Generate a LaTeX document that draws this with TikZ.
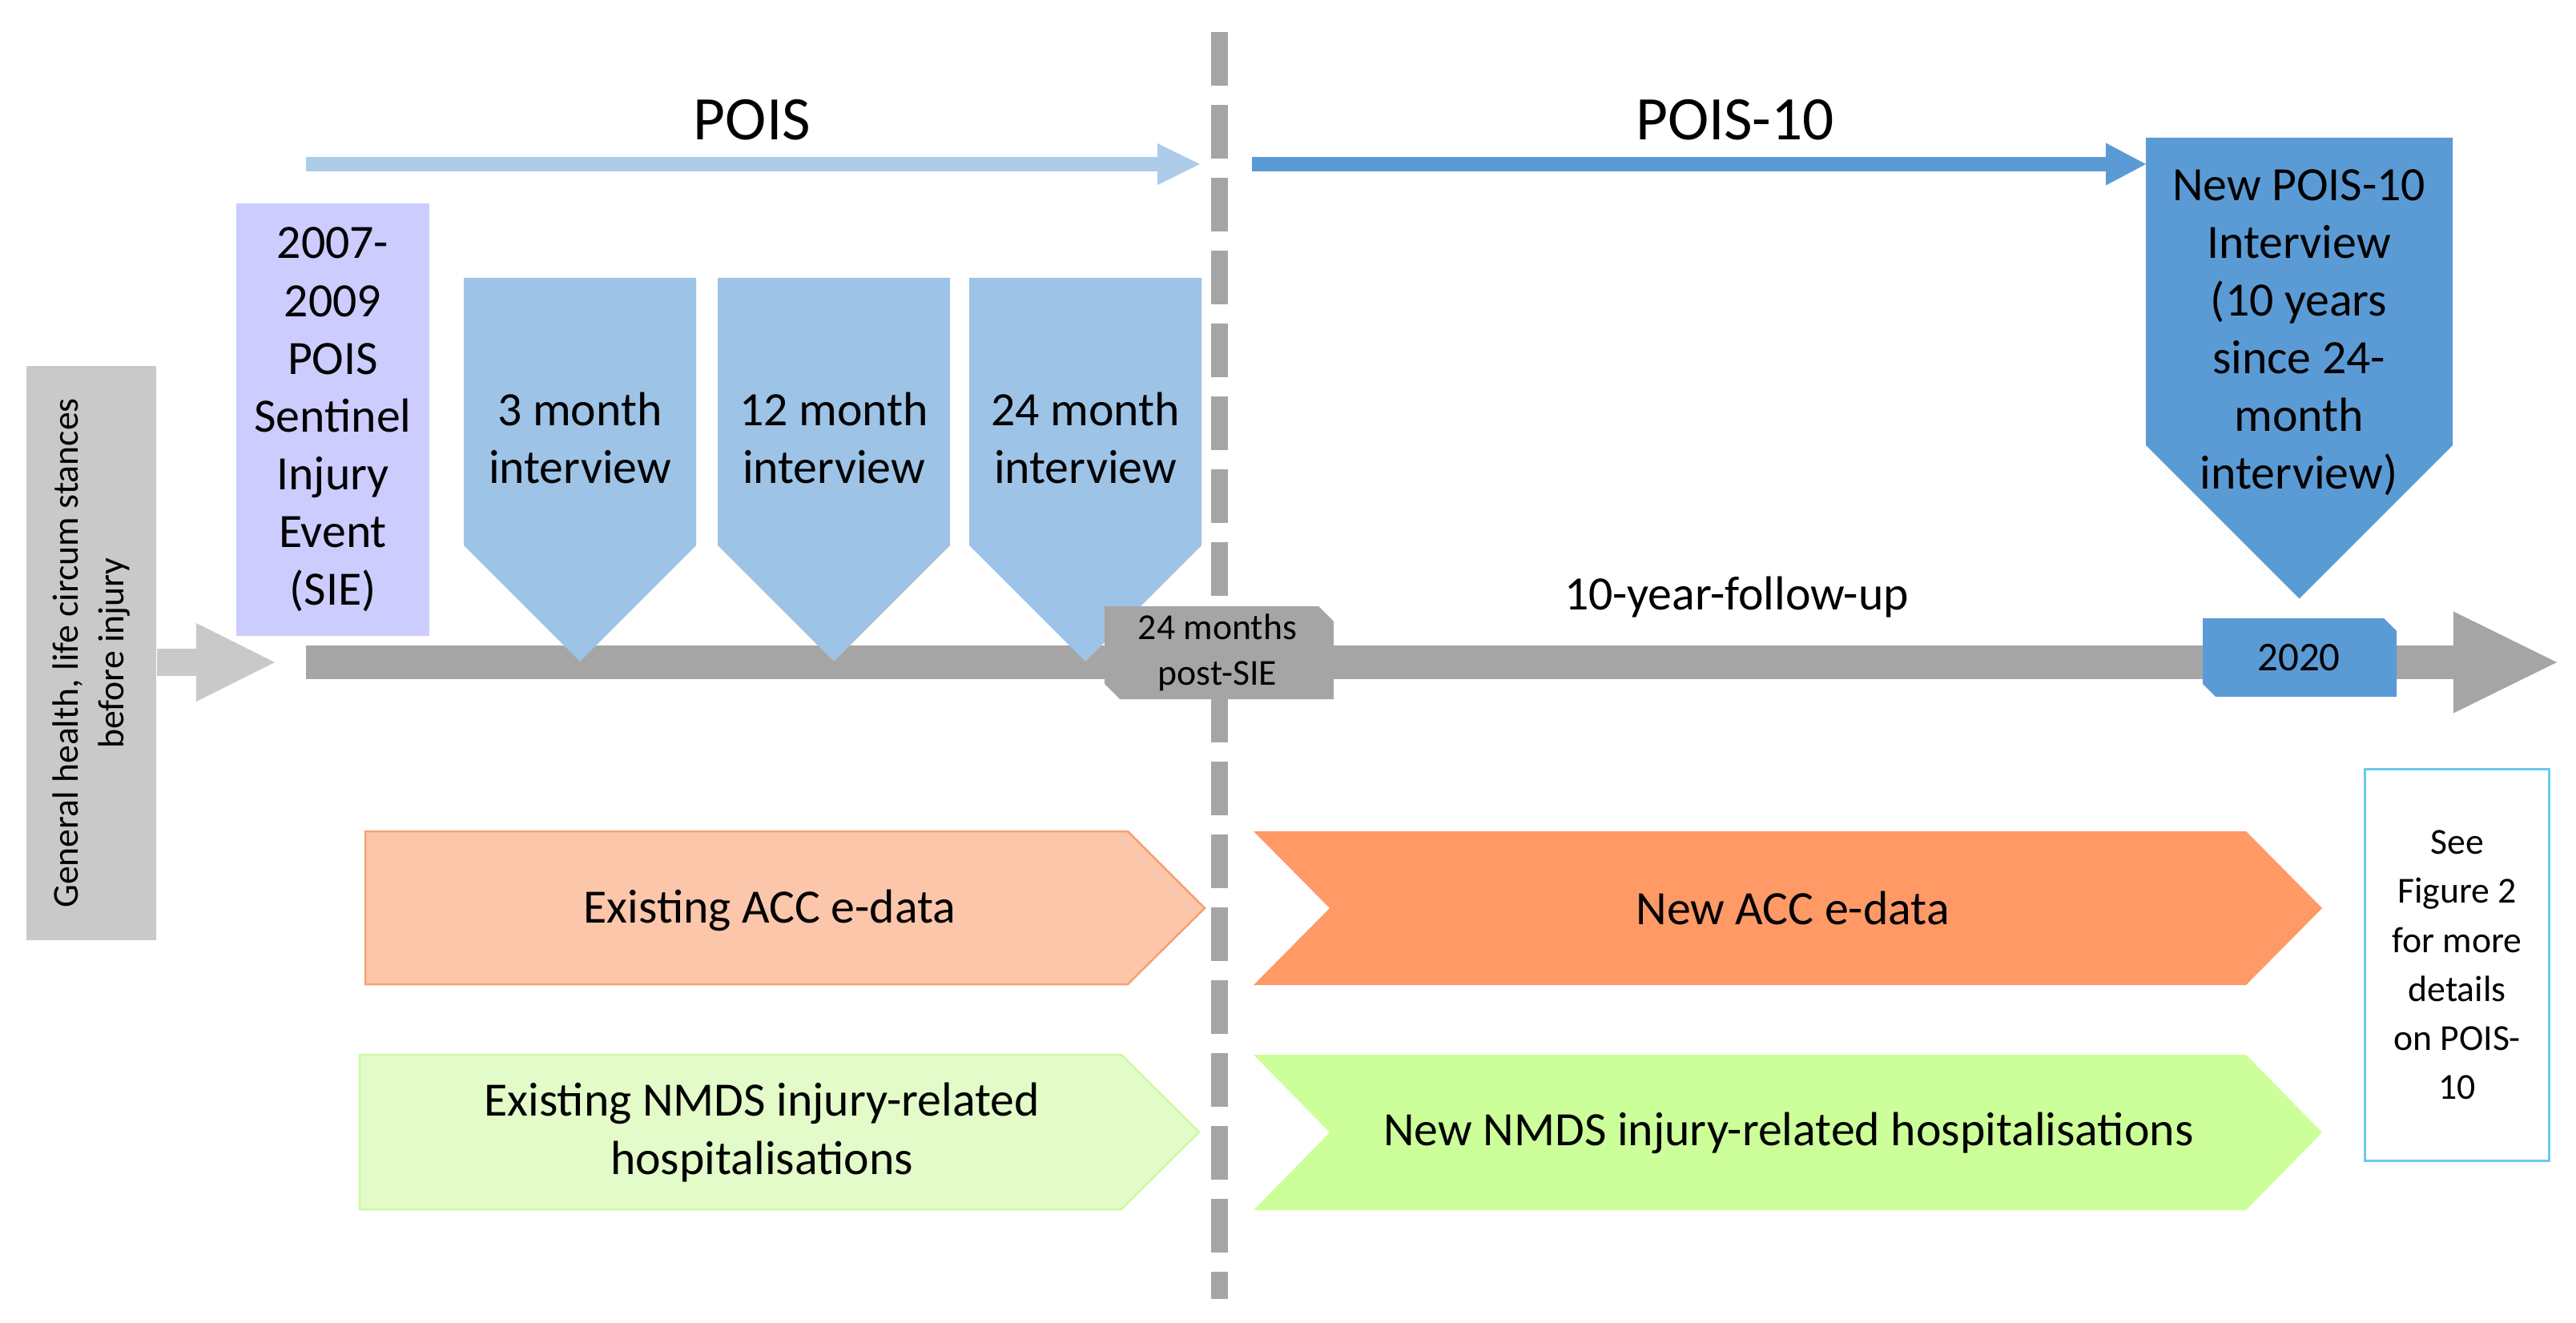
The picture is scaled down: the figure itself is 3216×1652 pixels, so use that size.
\documentclass[tikz,border=0pt]{standalone}
\usepackage{fontspec}
\setmainfont{Carlito}
\usetikzlibrary{arrows.meta}

\definecolor{lightgrey}{RGB}{201,201,201}
\definecolor{timegrey}{RGB}{165,165,165}
\definecolor{sieviolet}{RGB}{204,204,255}
\definecolor{poisblue}{RGB}{157,195,230}
\definecolor{poisarrow}{RGB}{172,204,234}
\definecolor{pois10blue}{RGB}{91,155,213}
\definecolor{accold}{RGB}{251,198,170}
\definecolor{accoldline}{RGB}{247,160,115}
\definecolor{accnew}{RGB}{255,153,102}
\definecolor{nmdsold}{RGB}{226,251,200}
\definecolor{nmdsoldline}{RGB}{204,250,160}
\definecolor{nmdsnew}{RGB}{204,255,153}
\definecolor{seeline}{RGB}{110,200,240}

\tikzset{
  bodytext/.style={font=\fontsize{17}{20.5}\selectfont, align=center, inner sep=0pt},
  smalltext/.style={font=\fontsize{13}{16.2}\selectfont, align=center, inner sep=0pt},
  titletext/.style={font=\fontsize{22}{26}\selectfont, inner sep=0pt},
}

\begin{document}
\begin{tikzpicture}[x=0.01cm, y=-0.01cm]
  \fill[white] (0,0) rectangle (3216,1652);
  \useasboundingbox (0,0) rectangle (3216,1652);

  % Divider between POIS and POIS-10
  \coordinate (divider-top) at (1522,40);
  \coordinate (divider-bottom) at (1522,1622);
  \draw[timegrey, line width=0.21cm, dash pattern=on 0.67cm off 0.24cm] (divider-top) -- (divider-bottom);

  % Nodes
  \node (pois) [titletext, anchor=base] at (939,175) {POIS};
  \node (pois10) [titletext, anchor=base] at (2166,175) {POIS-10};
  \node (general) [rectangle, fill=lightgrey, rotate=90, minimum width=7.16cm, minimum height=1.62cm, smalltext] at (114,815.5) {General health, life circum stances\\before injury};
  \node (sie) [rectangle, fill=sieviolet, minimum width=2.41cm, minimum height=5.40cm, bodytext] at (415.5,524) {2007-\\2009\\POIS\\Sentinel\\Injury\\Event\\(SIE)};

  % Timeline
  \coordinate (time-start) at (382,827);
  \coordinate (time-end) at (3192,827);
  \coordinate (lead-tip) at (343,827);
  \draw[timegrey, line width=0.42cm, -{Triangle[length=1.29cm, width=1.27cm, line width=0pt]}] (time-start) -- (time-end);
  \draw[lightgrey, line width=0.33cm, -{Triangle[length=0.98cm, width=0.98cm, line width=0pt]}] (general.south |- lead-tip) -- (lead-tip);

  % Study arrows
  \coordinate (pois-start) at (382,205);
  \coordinate (pois-end) at (1498,205);
  \coordinate (pois10-start) at (1563,205);
  \coordinate (pois10-end) at (2679,205);
  \draw[poisarrow, line width=0.17cm, -{Triangle[length=0.53cm, width=0.52cm, line width=0pt]}] (pois-start) -- (pois-end);
  \draw[pois10blue, line width=0.18cm, -{Triangle[length=0.50cm, width=0.53cm, line width=0pt]}] (pois10-start) -- (pois10-end);

  % Interviews
  \fill[poisblue] (579,347) -- (869,347) -- (869,681) -- (724,826) -- (579,681) -- cycle;
  \fill[poisblue] (896,347) -- (1186,347) -- (1186,681) -- (1041,826) -- (896,681) -- cycle;
  \fill[poisblue] (1210,347) -- (1500,347) -- (1500,681) -- (1355,826) -- (1210,681) -- cycle;
  \fill[pois10blue] (2679,172) -- (3062,172) -- (3062,556) -- (2870.5,747.5) -- (2679,556) -- cycle;
  \node (m3) [bodytext] at (724,547) {3 month\\interview};
  \node (m12) [bodytext] at (1041,547) {12 month\\interview};
  \node (m24) [bodytext] at (1355,547) {24 month\\interview};
  \node (new-interview) [bodytext] at (2870,415) {New POIS-10\\Interview\\(10 years\\since 24-\\month\\interview)};

  % Time labels
  \fill[timegrey] (1379,757) -- (1646,757) -- (1665,776) -- (1665,873) -- (1398,873) -- (1379,854) -- cycle;
  \node (post-sie) [smalltext] at (1520,815) {24 months\\post-SIE};
  \fill[pois10blue] (2750,772) -- (2976,772) -- (2992,788) -- (2992,870) -- (2766,870) -- (2750,854) -- cycle;
  \node (year2020) [font=\fontsize{14.5}{17}\selectfont, inner sep=0pt] at (2870,821) {2020};
  \node (followup) [bodytext, anchor=base] at (2168,761) {10-year-follow-up};

  % Linked data
  \filldraw[fill=accold, draw=accoldline, line width=0.025cm] (456,1038) -- (1408,1038) -- (1504,1134) -- (1408,1229) -- (456,1229) -- cycle;
  \fill[accnew] (1565,1038) -- (2804,1038) -- (2899,1134) -- (2804,1230) -- (1565,1230) -- (1660,1134) -- cycle;
  \filldraw[fill=nmdsold, draw=nmdsoldline, line width=0.025cm] (449,1317) -- (1400,1317) -- (1497,1413.5) -- (1400,1510) -- (449,1510) -- cycle;
  \fill[nmdsnew] (1565,1317) -- (2804,1317) -- (2899,1414) -- (2804,1511) -- (1565,1511) -- (1660,1414) -- cycle;
  \node (acc-old) [bodytext] at (961,1137) {Existing ACC e-data};
  \node (acc-new) [bodytext] at (2238,1134) {New ACC e-data};
  \node (nmds-old) [bodytext] at (951,1414) {Existing NMDS injury-related\\hospitalisations};
  \node (nmds-new) [bodytext] at (2233,1415) {New NMDS injury-related hospitalisations};

  % Pointer to Figure 2
  \node (see-fig) [rectangle, draw=seeline, line width=0.03cm, minimum width=2.29cm, minimum height=4.88cm, font=\fontsize{13}{17.4}\selectfont, align=center, inner sep=0pt] at (3067.5,1205) {See\\Figure 2\\for more\\details\\on POIS-\\10};
\end{tikzpicture}
\end{document}
